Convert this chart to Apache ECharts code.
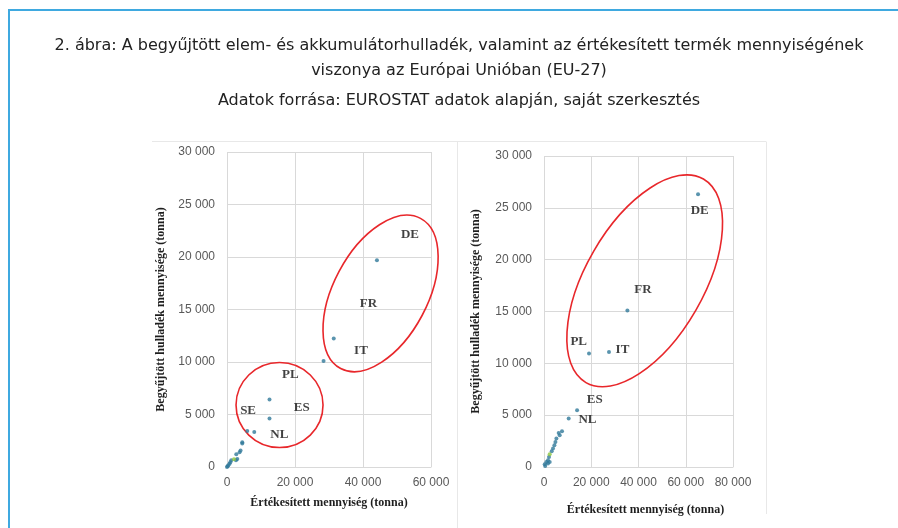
<!DOCTYPE html>
<html>
<head>
    <meta charset="utf-8"/>
    <title>2. ábra</title>
    <script src="https://cdn.jsdelivr.net/npm/echarts@6/dist/echarts.min.js"></script>
    <style>
        html, body { margin: 0; padding: 0; background: #fff; }
        #main { width: 898px; height: 528px; }
    </style>
</head>
<body>
<div id="main"></div>
<script>
    // bal oldali diagram pontjai (értékesített, begyűjtött)
    const leftX = [44100, 31400, 28400, 12500, 12500, 5960, 8020, 4490, 4490, 3990, 3700, 2730, 2640, 3030, 1260, 760, 970, 380, 180, 0];
    const leftY = [19700, 12250, 10090, 6430, 4620, 3440, 3340, 2360, 2230, 1570, 1400, 1210, 640, 760, 640, 320, 450, 160, 70, 0];
    const leftGreen = [2060, 735];

    // jobb oldali diagram pontjai
    const rightX = [65200, 35300, 19050, 27500, 14000, 10450, 7620, 6220, 6650, 5250, 4830, 4400, 3810, 3260, 2120, 1690, 1020, 2410, 1690, 300, 500];
    const rightY = [26300, 15090, 10940, 11090, 5470, 4670, 3440, 3280, 3060, 2740, 2410, 2090, 1780, 1520, 965, 650, 480, 480, 330, 260, 100];
    const rightGreen = [2410, 1225];

    // országcímkék
    const leftLabels = ['DE', 'FR', 'IT', 'PL', 'SE', 'ES', 'NL'];
    const leftLabelX = [53800, 41600, 39400, 18600, 6200, 22000, 15400];
    const leftLabelY = [22100, 15600, 11070, 8820, 5410, 5630, 3090];
    const rightLabels = ['DE', 'FR', 'PL', 'IT', 'ES', 'NL'];
    const rightLabelX = [65900, 41900, 14700, 33200, 21500, 18400];
    const rightLabelY = [24700, 17140, 12060, 11360, 6530, 4600];

    // tengelyek
    const xMaxLeft = 60000;
    const xMaxRight = 80000;
    const yMax = 30000;

    // piros ellipszisek (középpont adatkoordinátában, sugarak pixelben)
    const rings = [
        {grid: 0, c: [45170, 16530], rx: 85, ry: 47, angle: 62},
        {grid: 0, c: [15450, 5900], rx: 43.5, ry: 42.5, angle: 0},
        {grid: 1, c: [42620, 17960], rx: 117.5, ry: 59, angle: 60}
    ];

    const fmt = function (v) {
        return String(v).replace(/\B(?=(\d{3})+(?!\d))/g, ' ');
    };
    const zip = function (a, b) {
        return a.map(function (v, i) { return [v, b[i]]; });
    };
    const labelData = function (names, xs, ys) {
        return names.map(function (n, i) { return {name: n, value: [xs[i], ys[i]]}; });
    };

    const gridColor = '#d9d9d9';
    const tickStyle = {color: '#595959', fontFamily: 'Liberation Sans', fontSize: 12};
    const nameStyle = {color: '#1e1e1e', fontFamily: 'Liberation Serif', fontWeight: 'bold', fontSize: 12};

    function xAxis(idx, max, gap, pad) {
        return {
            type: 'value', gridIndex: idx, min: 0, max: max, interval: 20000,
            name: 'Értékesített mennyiség (tonna)', nameLocation: 'middle', nameGap: gap,
            nameTextStyle: Object.assign({padding: pad}, nameStyle),
            axisLine: {show: true, lineStyle: {color: gridColor}},
            axisTick: {show: false},
            axisLabel: Object.assign({margin: 10, formatter: fmt}, tickStyle),
            splitLine: {show: true, lineStyle: {color: gridColor}}
        };
    }

    function yAxis(idx, gap) {
        return {
            type: 'value', gridIndex: idx, min: 0, max: yMax, interval: 5000,
            name: 'Begyűjtött hulladék mennyisége (tonna)', nameLocation: 'middle', nameGap: gap,
            nameTextStyle: nameStyle,
            axisLine: {show: false},
            axisTick: {show: false},
            axisLabel: Object.assign({margin: 12, formatter: fmt}, tickStyle),
            splitLine: {show: true, lineStyle: {color: gridColor}}
        };
    }

    function dots(idx, data, color) {
        return {
            type: 'scatter', xAxisIndex: idx, yAxisIndex: idx, data: data,
            symbolSize: 4, itemStyle: {color: color}, silent: true
        };
    }

    function labels(idx, data) {
        return {
            type: 'scatter', xAxisIndex: idx, yAxisIndex: idx, data: data,
            symbolSize: 0, silent: true,
            label: {
                show: true, position: 'inside', formatter: '{b}',
                color: '#111', fontFamily: 'Liberation Serif', fontWeight: 'bold', fontSize: 13
            }
        };
    }

    const myChart = echarts.init(document.getElementById('main'));
    const option = {
        animation: false,
        backgroundColor: '#fff',
        grid: [
            {left: 227, right: 467, top: 152, bottom: 61},
            {left: 544, right: 165, top: 156, bottom: 61}
        ],
        xAxis: [xAxis(0, xMaxLeft, 30, [0, 0, 0, 0]), xAxis(1, xMaxRight, 37, [0, 0, 0, 14])],
        yAxis: [yAxis(0, 60), yAxis(1, 62)],
        series: [
            dots(0, zip(leftX, leftY), '#31799a'),
            dots(0, [leftGreen], '#8cc63f'),
            labels(0, labelData(leftLabels, leftLabelX, leftLabelY)),
            dots(1, zip(rightX, rightY), '#31799a'),
            dots(1, [rightGreen], '#8cc63f'),
            labels(1, labelData(rightLabels, rightLabelX, rightLabelY))
        ]
    };
    myChart.setOption(option);

    // keret, cím, ellipszisek
    const titleFont = {fontFamily: 'DejaVu Sans', fontSize: 16, fill: '#222', align: 'center', verticalAlign: 'middle'};
    const graphics = [
        {type: 'line', shape: {x1: 8, y1: 10, x2: 898, y2: 10}, style: {stroke: '#3fa9e0', lineWidth: 2}},
        {type: 'line', shape: {x1: 9, y1: 10, x2: 9, y2: 528}, style: {stroke: '#3fa9e0', lineWidth: 2}},
        {type: 'line', shape: {x1: 152, y1: 141.5, x2: 766, y2: 141.5}, style: {stroke: '#e8e8e8', lineWidth: 1}},
        {type: 'line', shape: {x1: 457.5, y1: 141.5, x2: 457.5, y2: 528}, style: {stroke: '#e8e8e8', lineWidth: 1}},
        {type: 'line', shape: {x1: 766.5, y1: 141.5, x2: 766.5, y2: 514}, style: {stroke: '#e8e8e8', lineWidth: 1}},
        {type: 'text', x: 459, y: 46, style: Object.assign({text: '2. ábra: A begyűjtött elem- és akkumulátorhulladék, valamint az értékesített termék mennyiségének'}, titleFont)},
        {type: 'text', x: 459, y: 71, style: Object.assign({text: 'viszonya az Európai Unióban (EU-27)'}, titleFont)},
        {type: 'text', x: 459, y: 101, style: Object.assign({text: 'Adatok forrása: EUROSTAT adatok alapján, saját szerkesztés'}, titleFont)}
    ];
    rings.forEach(function (r) {
        const p = myChart.convertToPixel({gridIndex: r.grid}, r.c);
        graphics.push({
            type: 'ellipse', x: p[0], y: p[1], rotation: r.angle * Math.PI / 180,
            shape: {cx: 0, cy: 0, rx: r.rx, ry: r.ry},
            style: {fill: 'none', stroke: '#e8272b', lineWidth: 1.6}
        });
    });
    myChart.setOption({graphic: graphics});
</script>
</body>
</html>
